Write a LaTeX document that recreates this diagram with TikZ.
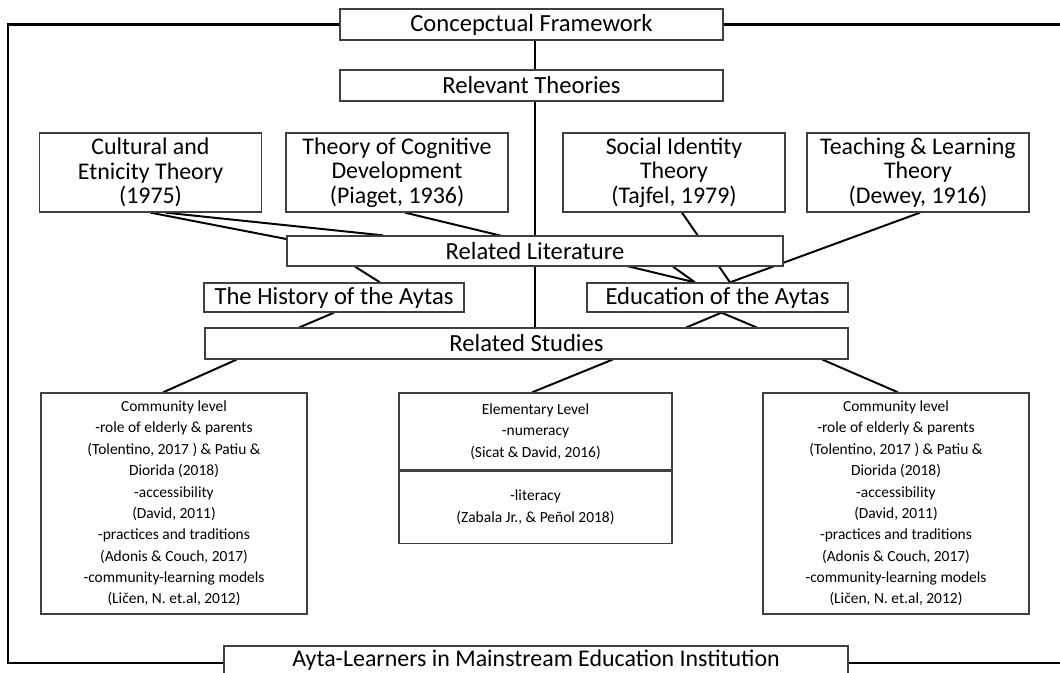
\documentclass[tikz,border=0pt]{standalone}
\usepackage{fontspec}
\setmainfont{Carlito}
\usetikzlibrary{calc,backgrounds}

\tikzset{
    box/.style={draw=black!75, line width=0.9pt, fill=white, inner sep=0pt, align=center},
    bar/.style={box, minimum height=0.775cm, font=\fontsize{17.5}{19}\selectfont},
    theory/.style={box, minimum width=5.55cm, minimum height=1.975cm, font=\fontsize{17}{17.4}\selectfont},
    study/.style={box, minimum width=6.65cm, minimum height=5.525cm, font=\fontsize{11}{15.2}\selectfont},
    level/.style={box, minimum width=6.825cm, font=\fontsize{11}{15.2}\selectfont},
    link/.style={line width=1.4pt},
    frame/.style={line width=1.6pt}
}

\begin{document}
\begin{tikzpicture}[x=0.025cm, y=-0.025cm]
        \useasboundingbox (0,0) rectangle (1060,672);
        \clip (0,0) rectangle (1060,672);

        % framework and theories
        \node[bar, minimum width=9.575cm] (cf) at (531.5,24.5) {Concepctual Framework};
        \node[bar, minimum width=9.575cm] (rt) at (531.5,85.5) {Relevant Theories};

        \node[theory] (cult) at (150.5,172.5) {Cultural and\\Etnicity Theory\\(1975)};
        \node[theory] (cog) at (397,172.5) {Theory of Cognitive\\Development\\(Piaget, 1936)};
        \node[theory] (soc) at (674,172.5) {Social Identity\\Theory\\(Tajfel, 1979)};
        \node[theory] (teach) at (918,172.5) {Teaching \& Learning\\Theory\\(Dewey, 1916)};

        % literature
        \node[bar, minimum width=12.4cm, minimum height=0.75cm] (rl) at (535,251) {Related Literature};
        \node[bar, minimum width=6.5cm, minimum height=0.725cm] (hist) at (334,297.5) {The History of the Aytas};
        \node[bar, minimum width=6.525cm, minimum height=0.725cm] (edu) at (717.5,297.5) {Education of the Aytas};

        % studies
        \node[bar, minimum width=16.075cm] (rs) at (526.5,343.5) {Related Studies};

        \node[study] (coml) at (174,503.5) {Community level\\-role of elderly \& parents\\(Tolentino, 2017 ) \& Patiu \&\\Diorida (2018)\\-accessibility\\(David, 2011)\\-practices and traditions\\(Adonis \& Couch, 2017)\\-community-learning models\\(Ličen, N. et.al, 2012)};

        \node[level, minimum height=1.925cm] (elem) at (535.5,431.5) {Elementary Level\\-numeracy\\(Sicat \& David, 2016)};
        \node[level, minimum height=1.8cm, anchor=north] (lit) at (elem.south) {-literacy\\(Zabala Jr., \& Peñol 2018)};

        \node[study] (comr) at (896,503.5) {Community level\\-role of elderly \& parents\\(Tolentino, 2017 ) \& Patiu \&\\Diorida (2018)\\-accessibility\\(David, 2011)\\-practices and traditions\\(Adonis \& Couch, 2017)\\-community-learning models\\(Ličen, N. et.al, 2012)};

        % learners
        \node[bar, minimum width=15.6cm, minimum height=0.85cm, font=\fontsize{17}{19}\selectfont, text height=12pt, text depth=6.5pt] (ayta) at (536,663) {Ayta-Learners in Mainstream Education Institution};

        % outer frame
        \coordinate (tl) at (8,24.5);
        \coordinate (bl) at (8,663);
        \coordinate (tr) at (1064,24.5);
        \coordinate (br) at (1064,663);
        \draw[frame] (cf.west) -- (tl) -- (bl) -- (ayta.west);
        \draw[frame] (cf.east) -- (tr);
        \draw[frame] (ayta.east) -- (br);

        % connectors, behind the boxes
        \begin{scope}[on background layer]
            \draw[link] (cf.south -| rl.north) -- (rs.north -| rl.north);

            \draw[link] (cult.south) -- ($(rl.west)+(0,-12)$);
            \draw[link] ($(cult.south)+(15,0)$) -- ($(rl.north)+(-152,0)$);
            \draw[link] ($(cog.south)+(8,0)$) -- ($(edu.north)+(-22.5,0)$);
            \draw[link] ($(soc.south)+(8,0)$) -- ($(edu.north)+(12.5,0)$);
            \draw[link] ($(teach.south)+(2,0)$) -- ($(edu.north)+(12.5,0)$);

            \draw[link] ($(rl.south)+(138,0)$) -- ($(edu.north)+(-22.5,0)$);
            \draw[link] ($(rl.south)+(-180,0)$) -- ($(hist.north)+(46,0)$);

            \draw[link] (hist.south) -- ($(rs.north)+(-227,0)$);
            \draw[link] ($(edu.south)+(4,0)$) -- ($(rs.north)+(160,0)$);
            \draw[link] ($(edu.south)+(4,0)$) -- ($(rs.north)+(230,0)$);

            \draw[link] ($(rs.south)+(-290,0)$) -- ($(coml.north)+(-11,0)$);
            \draw[link] ($(rs.south)+(86,0)$) -- ($(elem.north)+(-3.5,0)$);
            \draw[link] ($(rs.south)+(296,0)$) -- ($(comr.north)+(2,0)$);
        \end{scope}
\end{tikzpicture}
\end{document}
